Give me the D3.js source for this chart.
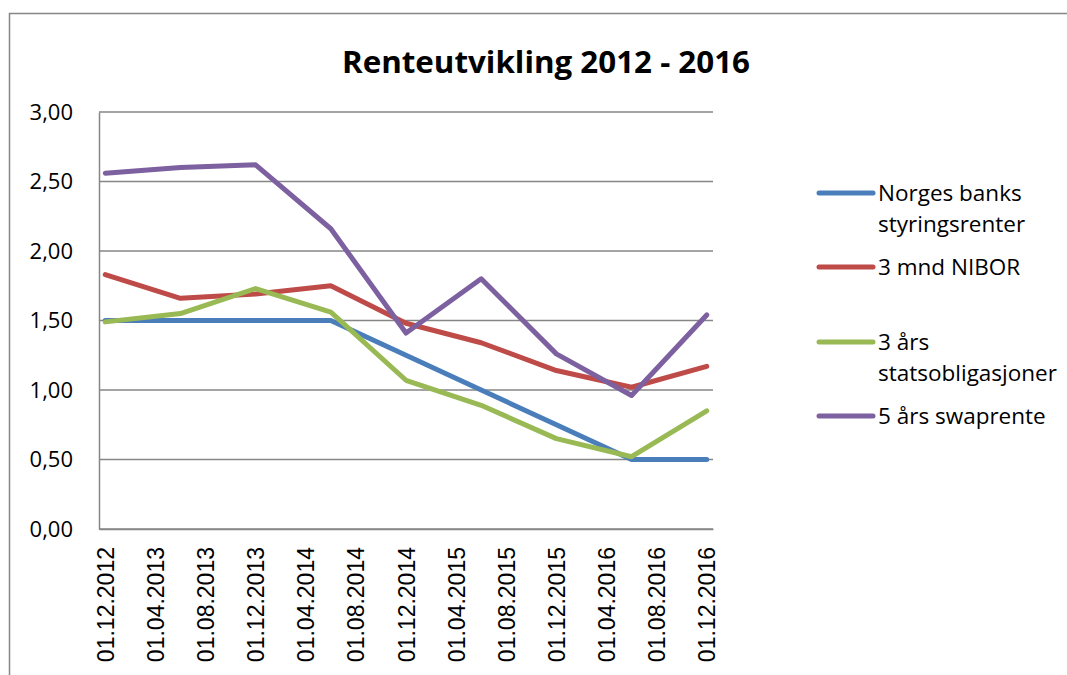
<!DOCTYPE html>
<html>
<head>
<meta charset="utf-8">
<script src="https://cdn.jsdelivr.net/npm/d3@7"></script>
<style>
  body { margin: 0; background: #fff; }
  svg { display: block; }
</style>
</head>
<body>
<div id="chart"></div>
<script>
// data (every 6 months)
var dates = ["01.12.2012", "01.06.2013", "01.12.2013", "01.06.2014", "01.12.2014",
             "01.06.2015", "01.12.2015", "01.06.2016", "01.12.2016"];
var styringsrente = [1.50, 1.50, 1.50, 1.50, 1.25, 1.00, 0.75, 0.50, 0.50];
var nibor3m      = [1.83, 1.66, 1.69, 1.75, 1.48, 1.34, 1.14, 1.02, 1.17];
var stat3aar     = [1.49, 1.55, 1.73, 1.56, 1.07, 0.89, 0.65, 0.52, 0.85];
var swap5aar     = [2.56, 2.60, 2.62, 2.16, 1.41, 1.80, 1.26, 0.96, 1.54];

var seriesNames = [["Norges banks", "styringsrenter"], ["3 mnd NIBOR"], ["3 års", "statsobligasjoner"], ["5 års swaprente"]];
var seriesColors = ["#4a7ebb", "#be4b48", "#98b954", "#7d60a0"];
var seriesValues = [styringsrente, nibor3m, stat3aar, swap5aar];

var tickLabels = ["01.12.2012", "01.04.2013", "01.08.2013", "01.12.2013", "01.04.2014",
                  "01.08.2014", "01.12.2014", "01.04.2015", "01.08.2015", "01.12.2015",
                  "01.04.2016", "01.08.2016", "01.12.2016"];
var yTicks = [0, 0.5, 1, 1.5, 2, 2.5, 3];

var W = 1067, H = 675;
var margin = {top: 112, right: 354, bottom: 146, left: 99},
    width = W - margin.left - margin.right,
    height = H - margin.top - margin.bottom;

var parseDate = d3.timeParse("%d.%m.%Y");
var start = parseDate(dates[0]);
function monthIdx(s) { return d3.timeMonth.count(start, parseDate(s)); }

var svg = d3.select("#chart")
    .append("svg")
    .attr("width", W)
    .attr("height", H);

// outer chart border (right/bottom run off the picture)
svg.append("rect")
    .attr("x", 9.5).attr("y", 13.5)
    .attr("width", W + 20).attr("height", H + 20)
    .attr("fill", "none")
    .attr("stroke", "#868686")
    .attr("stroke-width", 1.5);

svg.append("text")
    .attr("x", 546)
    .attr("y", 73)
    .attr("text-anchor", "middle")
    .style("font-family", "'Open Sans', sans-serif")
    .style("font-weight", "700")
    .style("font-size", "31px")
    .attr("textLength", 408)
    .attr("lengthAdjust", "spacingAndGlyphs")
    .text("Renteutvikling 2012 - 2016");

var g = svg.append("g")
    .attr("transform", "translate(" + margin.left + "," + margin.top + ")");

var nMonths = monthIdx(dates[dates.length - 1]);
var x = d3.scaleLinear()
    .domain([-0.5, nMonths + 0.5])
    .range([0, width]);

var y = d3.scaleLinear()
    .domain([0, 3])
    .range([height, 0]);

// gridlines
g.selectAll(".grid")
    .data(yTicks)
    .enter()
    .append("line")
    .attr("x1", 0)
    .attr("x2", width)
    .attr("y1", function(d) { return y(d); })
    .attr("y2", function(d) { return y(d); })
    .attr("stroke", "#868686")
    .attr("stroke-width", 1.5);

// y axis
var yAxis = g.append("g")
    .call(d3.axisLeft(y)
        .tickValues(yTicks)
        .tickSize(0)
        .tickPadding(26)
        .tickFormat(function(d) { return d3.format(".2f")(d).replace(".", ","); }));
yAxis.select(".domain").attr("stroke", "#868686").attr("stroke-width", 1.5);
yAxis.selectAll("text")
    .style("font-family", "'Open Sans', sans-serif")
    .style("font-size", "22px")
    .attr("fill", "#000");

// x axis
var xAxis = g.append("g")
    .attr("transform", "translate(0," + height + ")")
    .call(d3.axisBottom(x)
        .tickValues(tickLabels.map(monthIdx))
        .tickSize(0)
        .tickFormat(function(d, i) { return tickLabels[i]; }));
xAxis.select(".domain").attr("stroke", "#868686").attr("stroke-width", 1.5);
xAxis.selectAll("text")
    .style("font-family", "'Liberation Sans', Arial, sans-serif")
    .style("font-size", "23px")
    .attr("fill", "#000")
    .attr("text-anchor", "end")
    .attr("transform", "rotate(-90)")
    .attr("x", -18)
    .attr("y", 0)
    .attr("dy", "0.35em");

// lines
var line = d3.line()
    .x(function(d, i) { return x(monthIdx(dates[i])); })
    .y(function(d) { return y(d); });

g.selectAll(".series")
    .data(seriesValues)
    .enter()
    .append("path")
    .attr("d", line)
    .attr("fill", "none")
    .attr("stroke", function(d, i) { return seriesColors[i]; })
    .attr("stroke-width", 5)
    .attr("stroke-linejoin", "round")
    .attr("stroke-linecap", "round");

// legend
var legendY = [193, 267, 342, 416];
var legend = svg.append("g");
seriesNames.forEach(function(lines, i) {
    var lg = legend.append("g").attr("transform", "translate(0," + legendY[i] + ")");
    lg.append("line")
        .attr("x1", 819).attr("x2", 873)
        .attr("y1", 0).attr("y2", 0)
        .attr("stroke", seriesColors[i])
        .attr("stroke-width", 5)
        .attr("stroke-linecap", "round");
    lines.forEach(function(t, j) {
        lg.append("text")
            .attr("x", 878)
            .attr("y", 8 + j * 31)
            .style("font-family", "'Open Sans', sans-serif")
            .style("font-size", "22.5px")
            .text(t);
    });
});
</script>
</body>
</html>
